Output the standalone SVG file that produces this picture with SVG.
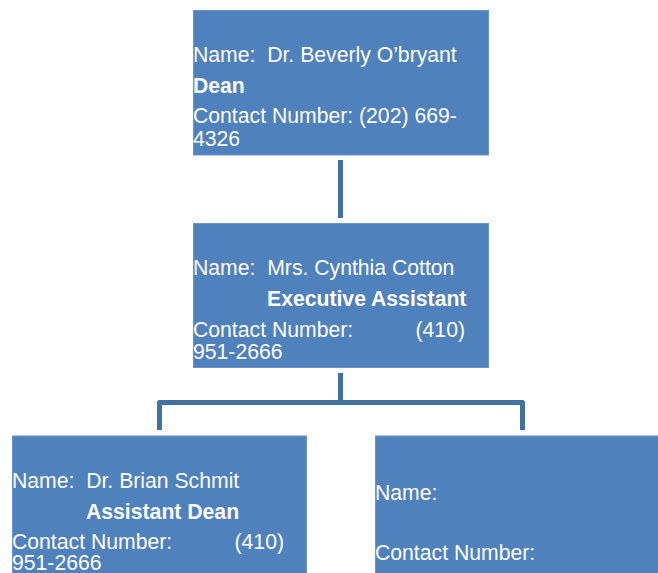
<svg xmlns="http://www.w3.org/2000/svg" width="658" height="573" viewBox="0 0 658 573">
<style>
.box{fill:#4F81BD;stroke:#6A95CA;stroke-width:1}
.t{font-family:"Liberation Sans",Arial,sans-serif;font-size:21.2px;fill:#FFFFFF;white-space:pre}
.b{font-weight:bold}
.c{fill:none;stroke:#41719F;stroke-width:5;stroke-linejoin:round;stroke-linecap:butt}
</style>
<rect width="658" height="573" fill="#FFFFFF"/>
<g id="connectors">
<path class="c" d="M340.5,160 V218"/>
<path class="c" d="M340.5,373 V402.5 M159.5,430 V402.5 H522.5 V430"/>
</g>
<g id="dean">
<rect class="box" x="193.5" y="10.5" width="295" height="144.5"/>
<text class="t" x="193" y="62" xml:space="preserve">Name:  Dr. Beverly O’bryant</text>
<text class="t b" x="193" y="93">Dean</text>
<text class="t" x="193" y="123">Contact Number: (202) 669-</text>
<text class="t" x="193" y="146">4326</text>
</g>
<g id="exec-assistant">
<rect class="box" x="193.5" y="223.5" width="295" height="144"/>
<text class="t" x="193" y="275" xml:space="preserve">Name:  Mrs. Cynthia Cotton</text>
<text class="t b" x="267" y="306">Executive Assistant</text>
<text class="t" x="193" y="337">Contact Number:</text>
<text class="t" x="465" y="337" text-anchor="end">(410)</text>
<text class="t" x="193" y="359">951-2666</text>
</g>
<g id="assistant-dean">
<rect class="box" x="12.5" y="436" width="294" height="140"/>
<text class="t" x="12" y="488" xml:space="preserve">Name:  Dr. Brian Schmit</text>
<text class="t b" x="86" y="519">Assistant Dean</text>
<text class="t" x="12" y="549">Contact Number:</text>
<text class="t" x="284" y="549" text-anchor="end">(410)</text>
<text class="t" x="12" y="570">951-2666</text>
</g>
<g id="vacant">
<rect class="box" x="375.5" y="436" width="290" height="140"/>
<text class="t" x="375" y="500">Name:</text>
<text class="t" x="375" y="560">Contact Number:</text>
</g>
</svg>
